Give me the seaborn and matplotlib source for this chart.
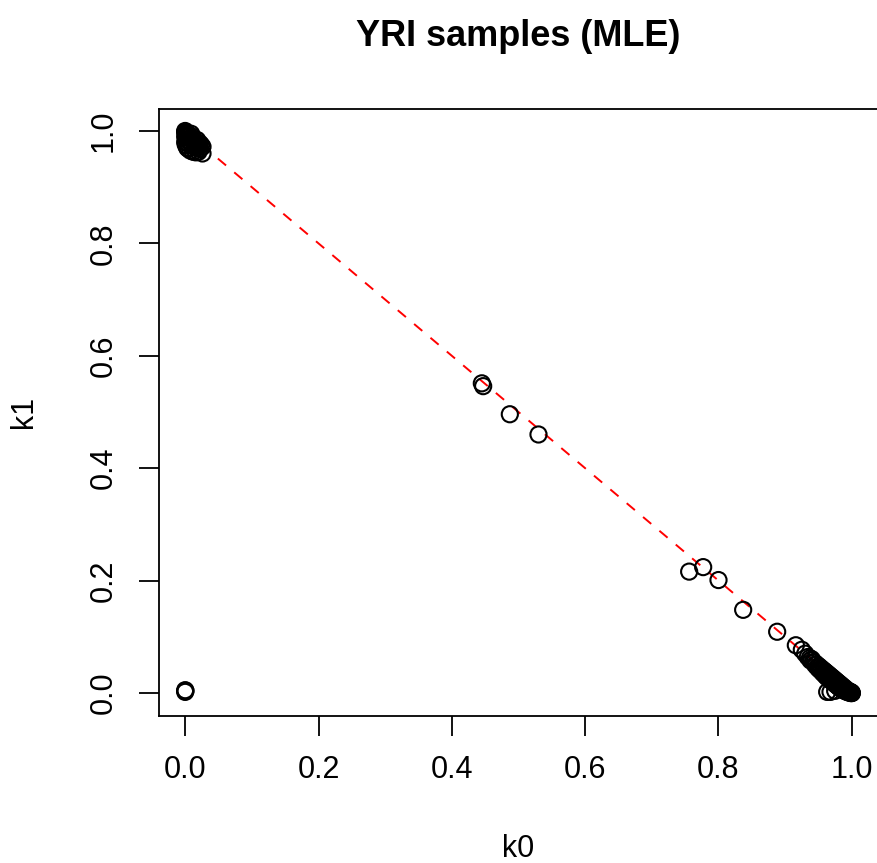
import matplotlib
matplotlib.use("Agg")
import matplotlib.pyplot as plt
import seaborn as sns
import pandas as pd

# ---- data ----
tl_k0 = [0.000, 0.000, 0.001, 0.002, 0.003, 0.004, 0.005, 0.006, 0.008, 0.010,
         0.012, 0.013, 0.015, 0.017, 0.019, 0.020, 0.000, 0.002, 0.000, 0.004,
         0.003, 0.008, 0.012, 0.016, 0.020, 0.026, 0.005, 0.010, 0.007, 0.014,
         0.018, 0.022, 0.001, 0.009, 0.022, 0.024, 0.018, 0.026, 0.011]
tl_k1 = [1.000, 0.998, 0.997, 0.995, 0.996, 0.993, 0.990, 0.992, 0.988, 0.985,
         0.986, 0.982, 0.980, 0.978, 0.979, 0.975, 0.990, 0.985, 0.980, 0.978,
         0.970, 0.965, 0.963, 0.962, 0.963, 0.960, 0.968, 0.975, 0.982, 0.972,
         0.970, 0.968, 0.975, 0.995, 0.978, 0.975, 0.984, 0.972, 0.990]

bl_k0 = [0.000, 0.000, 0.0005]
bl_k1 = [0.005, 0.002, 0.004]

mid_k0 = [0.445, 0.447, 0.487, 0.530, 0.756, 0.777, 0.800, 0.837, 0.888, 0.916,
          0.925, 0.930, 0.934, 0.937, 0.938]
mid_k1 = [0.551, 0.546, 0.496, 0.460, 0.216, 0.224, 0.201, 0.148, 0.109, 0.085,
          0.077, 0.070, 0.064, 0.062, 0.058]

br_k0 = [0.940, 0.942, 0.944, 0.945, 0.947, 0.948, 0.950, 0.951, 0.952, 0.954,
         0.955, 0.956, 0.958, 0.959, 0.960, 0.961, 0.962, 0.963, 0.964, 0.965,
         0.966, 0.967, 0.968, 0.969, 0.970, 0.971, 0.972, 0.973, 0.974, 0.975,
         0.976, 0.977, 0.978, 0.979, 0.980, 0.981, 0.982, 0.983, 0.984, 0.985,
         0.986, 0.987, 0.988, 0.989, 0.990, 0.991, 0.992, 0.993, 0.994, 0.995,
         0.996, 0.997, 0.998, 0.999, 1.000, 1.000, 0.999, 0.998, 0.963, 0.968,
         0.975]
br_k1 = [0.060, 0.055, 0.054, 0.050, 0.051, 0.046, 0.048, 0.042, 0.046, 0.040,
         0.043, 0.036, 0.040, 0.033, 0.038, 0.030, 0.036, 0.028, 0.034, 0.026,
         0.032, 0.024, 0.030, 0.022, 0.028, 0.020, 0.026, 0.018, 0.024, 0.016,
         0.022, 0.014, 0.020, 0.012, 0.018, 0.010, 0.016, 0.009, 0.014, 0.007,
         0.012, 0.006, 0.010, 0.004, 0.008, 0.003, 0.006, 0.002, 0.004, 0.001,
         0.003, 0.001, 0.002, 0.000, 0.000, 0.000, 0.001, 0.000, 0.002, 0.002,
         0.004]

line_k0 = [0.0, 1.0]
line_k1 = [1.0, 0.0]

ticks = [0.0, 0.2, 0.4, 0.6, 0.8, 1.0]
tick_labels = ["0.0", "0.2", "0.4", "0.6", "0.8", "1.0"]

df = pd.DataFrame({
    "k0": tl_k0 + bl_k0 + mid_k0 + br_k0,
    "k1": tl_k1 + bl_k1 + mid_k1 + br_k1,
})

# ---- style ----
sns.set_style("white")
plt.rcParams["font.family"] = ["Liberation Sans", "DejaVu Sans"]
plt.rcParams["text.color"] = "black"
plt.rcParams["axes.labelcolor"] = "black"

W, H = 877, 863
fig = plt.figure(figsize=(W / 100, H / 100), dpi=100)
ax = fig.add_axes([158.5 / W, 1 - 715.5 / H, 720 / W, 607 / H])

ax.plot(line_k0, line_k1, color="red", lw=1.4, linestyle=(0, (5.5, 5.5)), zorder=1)
sns.scatterplot(data=df, x="k0", y="k1", ax=ax, marker="o", s=135,
                facecolor="none", edgecolor="black", linewidth=1.5, zorder=2)

ax.set_xlim(-0.04, 1.04)
ax.set_ylim(-0.04, 1.04)
ax.set_xticks(ticks)
ax.set_xticklabels(tick_labels)
ax.set_yticks(ticks)
ax.set_yticklabels(tick_labels, rotation=90, va="center")
ax.tick_params(axis="both", which="major", bottom=True, left=True,
               direction="out", length=14.4, width=1.3,
               color="black", labelsize=22, labelcolor="black")
ax.tick_params(axis="x", pad=14)
ax.tick_params(axis="y", pad=14)
for sp in ax.spines.values():
    sp.set_visible(True)
    sp.set_color("black")
    sp.set_linewidth(1.3)

ax.set_xlabel("")
ax.set_ylabel("")
fig.text(518.5 / W, 1 - 849 / H, "k0", ha="center", va="center", fontsize=22)
fig.text(24 / W, 1 - 411.5 / H, "k1", ha="center", va="center", fontsize=22, rotation=90)
fig.text(518.5 / W, 1 - 36 / H, "YRI samples (MLE)", ha="center", va="center",
         fontsize=26, fontweight="bold")

fig.savefig("out.png", dpi=100)
